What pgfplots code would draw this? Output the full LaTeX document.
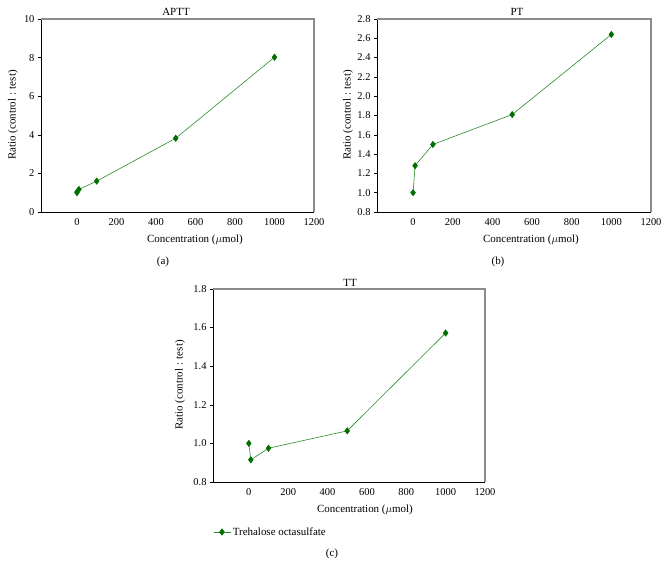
\documentclass[border=0pt]{standalone}
\usepackage{pgfplots}
\pgfplotsset{compat=1.18}
\usepackage{fontspec}
\setmainfont{Liberation Serif}
\definecolor{lgreen}{RGB}{40,140,40}
\definecolor{mgreen}{RGB}{0,110,0}
\definecolor{spine}{RGB}{140,140,140}
\pgfplotsset{
  panel/.style={
    scale only axis,
    anchor=south west,
    xmin=-182, xmax=1200,
    xtick={0,200,...,1200},
    axis x line*=bottom,
    axis y line*=left,
    x axis line style={-,black},
    y axis line style={-,black},
    xtick style={draw=none},
    ytick style={black, line width=0.5pt},
    tick align=outside,
    ytick pos=left,
    major tick length=3bp,
    tick label style={font=\fontsize{10.5}{11}\selectfont},
    /pgf/number format/assume math mode=true,
    /pgf/number format/1000 sep={},
    scaled ticks=false,
    clip=false,
  },
  ser/.style={color=lgreen, line width=0.6pt, mark=diamond*, mark size=3pt, mark options={fill=mgreen, draw=mgreen, line width=0.8pt}},
}
\newcommand{\boxlines}{%
  \draw[spine, line width=1.2pt] (rel axis cs:0,1) -- (rel axis cs:1,1) -- (rel axis cs:1,0);
}
\begin{document}
\begin{tikzpicture}
\path (0bp,0bp) rectangle (667bp,566bp);
% (a)
\begin{axis}[panel, at={(41bp,354bp)}, width=273bp, height=193bp,
  ymin=0, ymax=10, ytick={0,2,...,10}]
\boxlines
\addplot[ser] coordinates {(0,1.0) (1,1.05) (10,1.17) (100,1.6) (500,3.82) (1000,8.02)};
\end{axis}
% (b)
\begin{axis}[panel, at={(377bp,354bp)}, width=274bp, height=193bp,
  ymin=0.8, ymax=2.8, ytick={0.8,1.0,...,2.81},
  yticklabel style={/pgf/number format/fixed, /pgf/number format/fixed zerofill, /pgf/number format/precision=1}]
\boxlines
\addplot[ser] coordinates {(0,1.0) (10,1.28) (100,1.5) (500,1.81) (1000,2.64)};
\end{axis}
% (c)
\begin{axis}[panel, at={(213bp,84bp)}, width=272bp, height=193bp,
  ymin=0.8, ymax=1.8, ytick={0.8,1.0,...,1.81},
  yticklabel style={/pgf/number format/fixed, /pgf/number format/fixed zerofill, /pgf/number format/precision=1},
  legend style={at={(axis description cs:0,-0.259)}, anchor=west, draw=none, fill=none, font=\fontsize{11}{12}\selectfont, inner sep=0pt},
  legend cell align=left]
\boxlines
\addplot[ser] coordinates {(0,1.0) (10,0.915) (100,0.975) (500,1.065) (1000,1.572)};
\addlegendentry{Trehalose octasulfate}
\end{axis}
% titles
\begin{scope}[font=\fontsize{11}{12}\selectfont]
\node at (176bp,554bp) {APTT};
\node at (517bp,554bp) {PT};
\node at (350bp,283bp) {TT};
\node at (195bp,326bp) {Concentration ($\mu$mol)};
\node at (531bp,326bp) {Concentration ($\mu$mol)};
\node at (365bp,56bp) {Concentration ($\mu$mol)};
\node at (163bp,304bp) {(a)};
\node at (498bp,304bp) {(b)};
\node at (332bp,12bp) {(c)};
\node[rotate=90] at (13bp,451bp) {Ratio (control : test)};
\node[rotate=90] at (348bp,451bp) {Ratio (control : test)};
\node[rotate=90] at (180bp,181bp) {Ratio (control : test)};
\end{scope}
\end{tikzpicture}
\end{document}
